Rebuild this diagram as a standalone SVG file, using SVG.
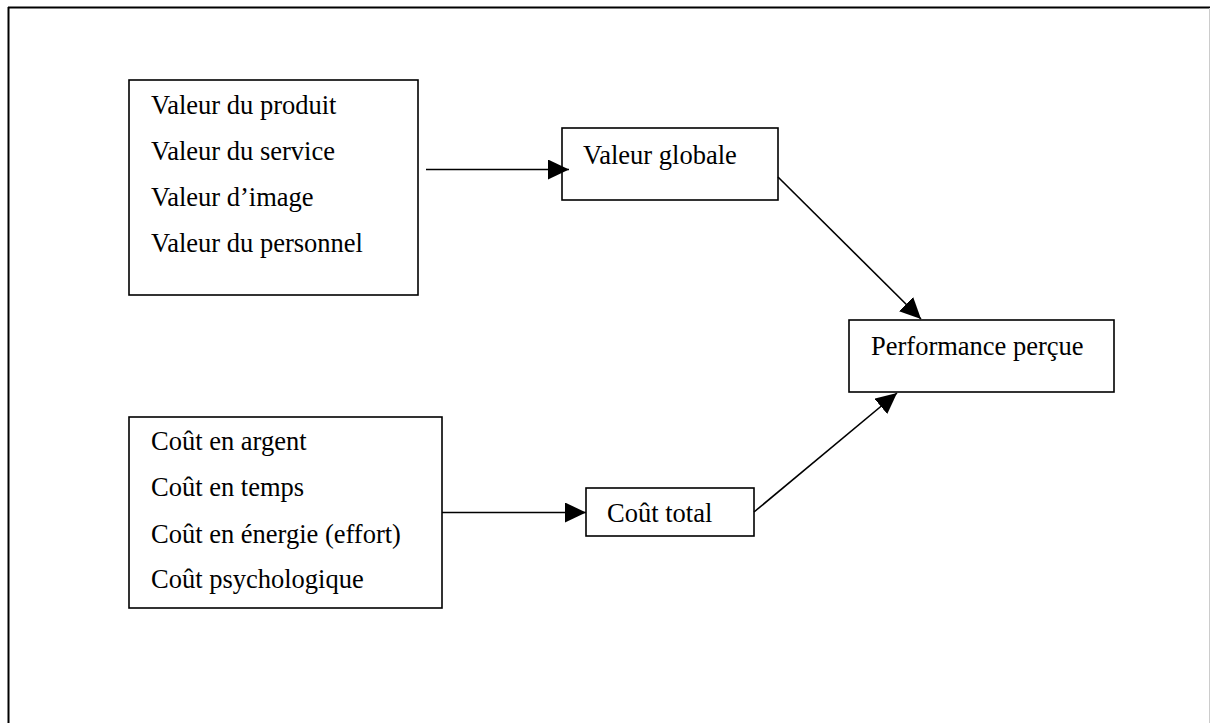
<svg xmlns="http://www.w3.org/2000/svg" width="1210" height="723" viewBox="0 0 1210 723">
<style>
.box{fill:#fff;stroke:#000;stroke-width:1.6}
.t{font-family:"Liberation Serif","Times New Roman",serif;font-size:26.5px;fill:#000}
.c{stroke:#000;stroke-width:1.6;fill:none}
</style>
<defs>
<marker id="ah" markerUnits="userSpaceOnUse" markerWidth="24" markerHeight="22" refX="21" refY="10" orient="auto">
<path d="M0,0 L21,10 L0,20 Z" fill="#000"/>
</marker>
</defs>
<rect width="1210" height="723" fill="#fff"/>
<g id="frame">
<line x1="8" y1="7.5" x2="1210" y2="7.5" stroke="#000" stroke-width="2"/>
<line x1="8.5" y1="7" x2="8.5" y2="723" stroke="#000" stroke-width="2"/>
<line x1="1209.5" y1="8" x2="1209.5" y2="723" stroke="#ccc" stroke-width="1"/>
</g>
<g id="valeurs">
<rect class="box" x="129" y="80" width="289" height="215"/>
<text class="t" x="151" y="114">Valeur du produit</text>
<text class="t" x="151" y="160">Valeur du service</text>
<text class="t" x="151" y="206">Valeur d’image</text>
<text class="t" x="151" y="252">Valeur du personnel</text>
</g>
<g id="valeur-globale">
<rect class="box" x="562" y="128" width="216" height="72"/>
<text class="t" x="583" y="164">Valeur globale</text>
</g>
<g id="performance">
<rect class="box" x="849" y="320" width="265" height="72"/>
<text class="t" x="871" y="355">Performance perçue</text>
</g>
<g id="couts">
<rect class="box" x="129" y="417" width="313" height="191"/>
<text class="t" x="151" y="450">Coût en argent</text>
<text class="t" x="151" y="496">Coût en temps</text>
<text class="t" x="151" y="543">Coût en énergie (effort)</text>
<text class="t" x="151" y="588">Coût psychologique</text>
</g>
<g id="cout-total">
<rect class="box" x="586" y="488" width="168" height="48"/>
<text class="t" x="607" y="522">Coût total</text>
</g>
<g id="connectors">
<line class="c" x1="426" y1="169.5" x2="569" y2="169.5" marker-end="url(#ah)"/>
<line class="c" x1="778" y1="177" x2="921" y2="319" marker-end="url(#ah)"/>
<line class="c" x1="442" y1="512.5" x2="586" y2="512.5" marker-end="url(#ah)"/>
<line class="c" x1="754" y1="512" x2="897" y2="393" marker-end="url(#ah)"/>
</g>
</svg>
